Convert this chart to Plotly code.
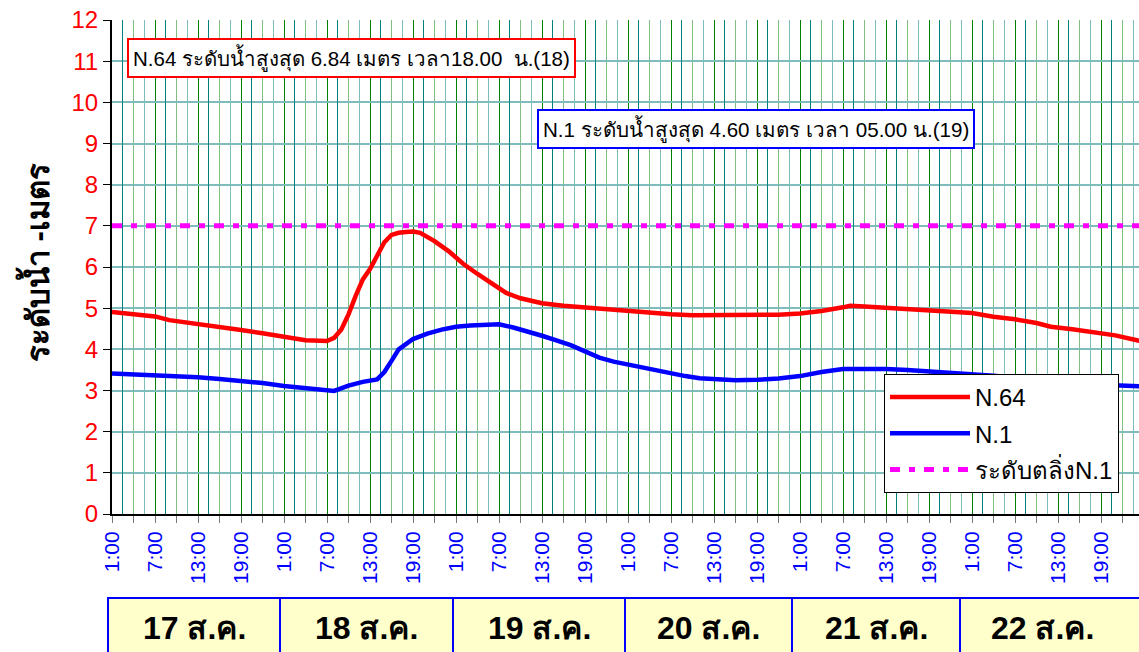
import pandas as pd
import plotly.graph_objects as go

# ---------------- data ----------------
START = pd.Timestamp("2011-08-17 01:00")

n64_hours = [0, 3, 6, 8, 12, 15, 18, 21, 24, 27, 30, 31, 32, 33, 34, 35, 36, 37, 38, 39, 40, 41, 42, 43,
             45, 47, 49, 51, 53, 55, 57, 60, 63, 66, 69, 72, 75, 78, 81, 84, 87, 90, 93, 96, 99, 102, 103,
             105, 108, 111, 114, 117, 120, 123, 126, 129, 131, 134, 137, 140, 143, 144]
n64_level = [4.91, 4.85, 4.80, 4.71, 4.62, 4.53, 4.47, 4.39, 4.30, 4.22, 4.20, 4.28, 4.48, 4.85, 5.30, 5.70,
             5.95, 6.30, 6.60, 6.78, 6.83, 6.85, 6.86, 6.83, 6.63, 6.38, 6.08, 5.83, 5.60, 5.37, 5.24, 5.12,
             5.06, 5.02, 4.98, 4.93, 4.88, 4.85, 4.83, 4.83, 4.83, 4.83, 4.84, 4.87, 4.93, 5.02, 5.06,
             5.04, 5.01, 4.99, 4.96, 4.93, 4.88, 4.79, 4.73, 4.64, 4.55, 4.49, 4.42, 4.34, 4.22, 4.18]

n1_hours = [0, 3, 6, 9, 12, 15, 18, 21, 24, 27, 30, 31, 33, 35, 37, 38, 39, 40, 42, 44, 46, 48, 50, 52, 54,
            56, 58, 60, 62, 64, 66, 68, 70, 72, 74, 76, 78, 80, 82, 84, 87, 90, 93, 96, 99, 102, 105, 108,
            111, 114, 117, 120, 123, 126, 129, 132, 135, 138, 141, 144]
n1_level = [3.41, 3.39, 3.37, 3.35, 3.32, 3.28, 3.24, 3.18, 3.11, 3.05, 2.99, 2.99, 3.12, 3.21, 3.27, 3.45,
            3.72, 4.00, 4.25, 4.38, 4.48, 4.55, 4.58, 4.60, 4.61, 4.53, 4.44, 4.33, 4.22, 4.10, 3.95, 3.80,
            3.70, 3.63, 3.57, 3.48, 3.42, 3.35, 3.30, 3.28, 3.25, 3.26, 3.29, 3.35, 3.45, 3.52, 3.53, 3.52,
            3.50, 3.47, 3.44, 3.40, 3.36, 3.31, 3.26, 3.22, 3.18, 3.14, 3.11, 3.10]

bank_hours = [0, 144]
bank_level = [7.0, 7.0]

day_labels = ["17 ส.ค.", "18 ส.ค.", "19 ส.ค.", "20 ส.ค.", "21 ส.ค.", "22 ส.ค."]
series_names = ["N.64", "N.1", "ระดับตลิ่งN.1"]
y_title = "ระดับน้ำ -เมตร"
note_n64 = "N.64 ระดับน้ำสูงสุด 6.84 เมตร เวลา18.00  น.(18)"
note_n1 = "N.1 ระดับน้ำสูงสุด 4.60 เมตร เวลา 05.00 น.(19)"


def to_time(hours):
    return [START + pd.Timedelta(hours=h) for h in hours]


FONT = "Arial, 'Liberation Sans', 'Noto Sans', 'DejaVu Sans', sans-serif"
W, H = 1139, 652
L, R, T, B = 112, 0, 20, 138
PW, PH = W - L - R, H - T - B


def px(xp):
    return (xp - L) / PW


def py(yp):
    return (H - B - yp) / PH


x_end = START + pd.Timedelta(hours=(W - L) / 172 * 24)
xr = [START, x_end]
HOUR = 3600000

fig = go.Figure()
fig.add_trace(go.Scatter(x=to_time(n64_hours), y=n64_level, name=series_names[0], mode="lines",
                         legendgroup="a", line=dict(color="#ff0000", width=4.5)))
fig.add_trace(go.Scatter(x=to_time(n1_hours), y=n1_level, name=series_names[1], mode="lines",
                         legendgroup="b", line=dict(color="#0000ff", width=4.5)))
fig.add_trace(go.Scatter(x=to_time(bank_hours), y=bank_level, name=series_names[2], mode="lines",
                         legendgroup="c", line=dict(color="#ff00ff", width=5, dash="10px,9px,6px,9px")))
# empty helpers so overlay grid axes exist
fig.add_trace(go.Scatter(x=[], y=[], xaxis="x2", showlegend=False, hoverinfo="skip"))
fig.add_trace(go.Scatter(x=[], y=[], xaxis="x3", showlegend=False, hoverinfo="skip"))

fig.update_layout(
    width=W, height=H,
    margin=dict(l=L, r=R, t=T, b=B),
    paper_bgcolor="white", plot_bgcolor="white",
    font=dict(family=FONT, color="black"),
    xaxis=dict(type="date", range=xr, tick0=START, dtick=6 * HOUR, tickformat="%-H:%M",
               tickangle=-90, tickfont=dict(size=21, color="#0000ff"),
               showgrid=True, gridcolor="#008000", gridwidth=1,
               ticks="outside", ticklen=7, tickcolor="#777777",
               minor=dict(dtick=3 * HOUR, tick0=START, showgrid=True, gridcolor="#80c080",
                          ticks="outside", ticklen=7, tickcolor="#777777"),
               showline=True, linecolor="black", linewidth=2, zeroline=False),
    xaxis2=dict(type="date", range=xr, overlaying="x", anchor="y",
                tick0=START + pd.Timedelta(hours=1.5), dtick=6 * HOUR,
                showgrid=True, gridcolor="#008080", showticklabels=False, ticks="", showline=False,
                zeroline=False),
    xaxis3=dict(type="date", range=xr, overlaying="x", anchor="y",
                tick0=START + pd.Timedelta(hours=4.5), dtick=6 * HOUR,
                showgrid=True, gridcolor="#7fbcbc", showticklabels=False, ticks="", showline=False,
                zeroline=False),
    yaxis=dict(range=[0, 12], tick0=0, dtick=10, tickvals=list(range(0, 13)),
               tickfont=dict(size=24, color="#ff0000"),
               showgrid=True, gridcolor="#7fbcbc", gridwidth=2,
               minor=dict(dtick=1, showgrid=True, gridcolor="#008080", gridwidth=1),
               ticks="outside", ticklen=7, tickcolor="black",
               showline=True, linecolor="black", linewidth=2, zeroline=False),
    legend=dict(x=px(884), y=py(374), xanchor="left", yanchor="top",
                bgcolor="white", bordercolor="black", borderwidth=1,
                font=dict(size=24, color="black", family=FONT), itemwidth=80,
                tracegroupgap=2),
    showlegend=True,
)

# y-axis title
fig.add_annotation(text="<b>" + y_title + "</b>", textangle=-90, xref="paper", yref="paper",
                   x=px(35), y=py(263), xanchor="center", yanchor="middle", showarrow=False,
                   font=dict(size=31, color="black", family=FONT))

# notes
fig.add_annotation(text=note_n64, xref="paper", yref="paper", x=px(127), y=py(58), xanchor="left",
                   yanchor="middle", showarrow=False, font=dict(size=20.5, color="black", family=FONT),
                   bgcolor="white", bordercolor="#ff0000", borderwidth=2, borderpad=4)
fig.add_annotation(text=note_n1, xref="paper", yref="paper", x=px(537), y=py(129), xanchor="left",
                   yanchor="middle", showarrow=False, font=dict(size=20.6, color="black", family=FONT),
                   bgcolor="white", bordercolor="#0000ff", borderwidth=2, borderpad=4)

# date table below axis
edges = [108, 280, 453, 625, 792, 960, 1160]
for i, lab in enumerate(day_labels):
    x0, x1 = edges[i], edges[i + 1]
    fig.add_shape(type="rect", xref="paper", yref="paper", x0=px(x0), x1=px(x1), y0=py(680), y1=py(598),
                  fillcolor="#ffffcc", line=dict(color="#0000ff", width=2), layer="above")
    cx = (x0 + x1) / 2 if i < len(day_labels) - 1 else 1042
    fig.add_annotation(text="<b>" + lab + "</b>", xref="paper", yref="paper", x=px(cx), y=py(628),
                       xanchor="center", yanchor="middle",
                       showarrow=False, font=dict(size=32, color="black", family=FONT))

fig.write_html("out.html", config={"displayModeBar": False},
               post_script="document.body.style.margin='0px';")
